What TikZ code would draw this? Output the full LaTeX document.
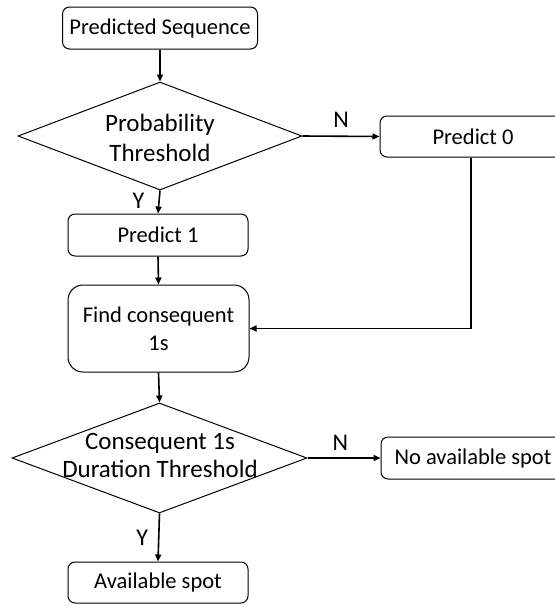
\documentclass[tikz,border=0pt]{standalone}
\usepackage{fontspec}
\setmainfont{Carlito}
\usetikzlibrary{shapes.geometric,arrows.meta,calc}
\begin{document}
\begin{tikzpicture}[x=1pt,y=-1pt,
  box/.style={draw,line width=1pt,rounded corners=7pt,inner sep=0pt,align=center,font=\fontsize{22.5}{28}\selectfont},
  dia/.style={draw,line width=1pt,shape=diamond,inner sep=0pt,aspect=2.6},
  diatext/.style={align=center,inner sep=0pt},
  arr/.style={line width=1.6pt,-{Triangle[length=7pt,width=6pt]}},
  lbl/.style={font=\fontsize{24}{28}\selectfont,inner sep=0pt}]
\useasboundingbox (0,0) rectangle (555,606);
\clip (0,0) rectangle (555,606);
\node[box,minimum width=195pt,minimum height=42pt] (ps) at (160,28) {Predicted Sequence};
\node[dia,minimum width=284pt,minimum height=108pt] (d1) at (160,136) {};
\node[diatext,font=\fontsize{25}{30}\selectfont] at (160,138) {Probability\\Threshold};
\node[box,minimum width=186pt,minimum height=41pt] (p0) at (473,136.5) {Predict 0};
\node[box,minimum width=180pt,minimum height=42pt] (p1) at (158,235) {Predict 1};
\node[box,rounded corners=15pt,minimum width=181pt,minimum height=87pt] (fc) at (158.5,328.5) {Find consequent\\1s};
\node[dia,minimum width=295pt,minimum height=110pt] (d2) at (159.5,458) {};
\node[diatext,font=\fontsize{25}{28}\selectfont] at (160,455) {Consequent 1s\\Duration Threshold};
\node[box,minimum width=184pt,minimum height=42pt] (nas) at (473,458) {No available spot};
\node[box,minimum width=180pt,minimum height=41pt] (as) at (158,582.5) {Available spot};
\draw[arr] (ps.south) -- (d1.north);
\draw[arr] (d1.east) -- (p0.west) node[lbl,pos=0.5,above=8pt] (n1) {N};
\draw[arr] ([xshift=-2pt]p0.south) |- (fc.east);
\draw[arr] (d1.south) -- (p1.north) node[lbl,pos=0.45,left=14pt] (y1) {Y};
\draw[arr] (p1.south) -- (fc.north);
\draw[arr] (fc.south) -- (d2.north);
\draw[arr] (d2.east) -- (nas.west) node[lbl,pos=0.45,above=7pt] (n2) {N};
\draw[arr] (d2.south) -- (as.north) node[lbl,pos=0.5,left=10pt] (y2) {Y};
\end{tikzpicture}
\end{document}
